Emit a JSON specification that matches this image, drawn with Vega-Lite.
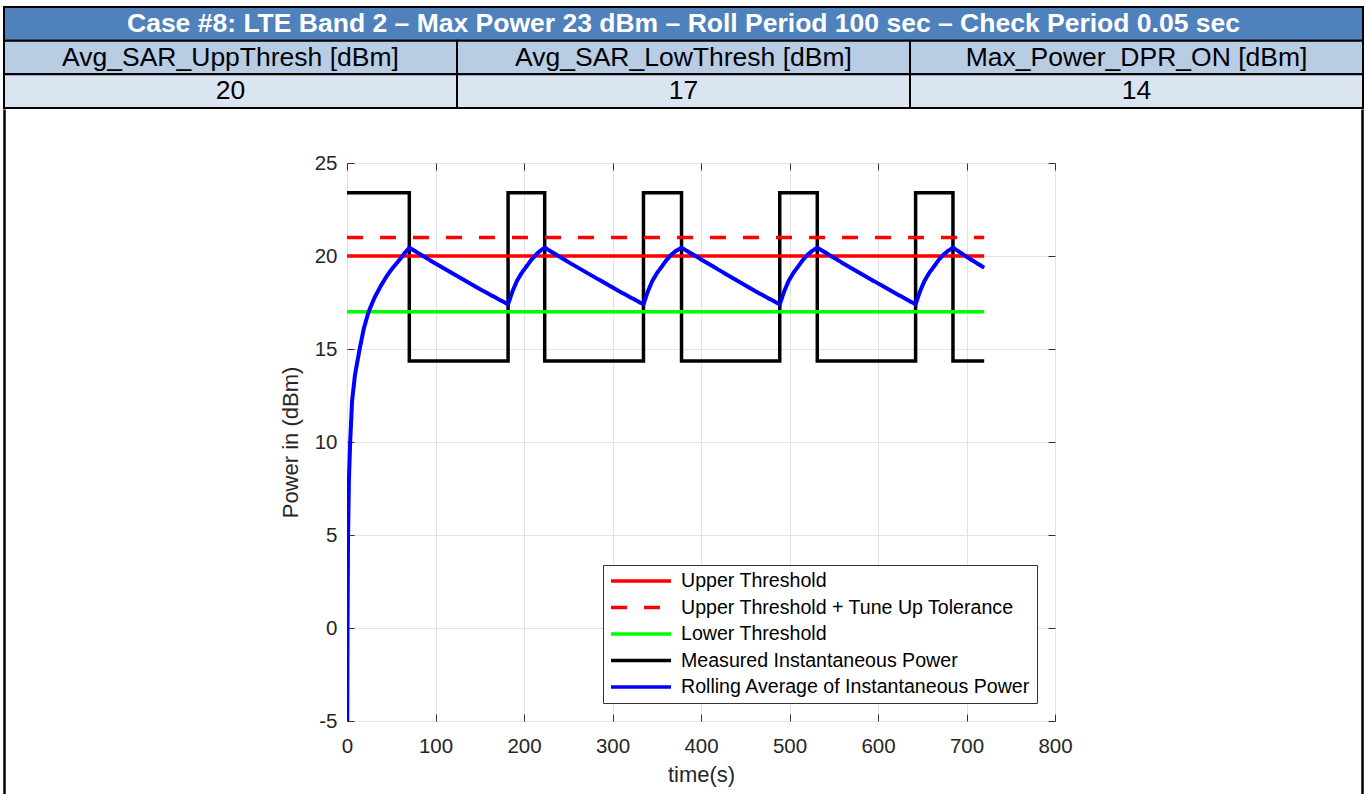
{
  "$schema": "https://vega.github.io/schema/vega-lite/v6.json",
  "background": "white",
  "padding": {"left": 3, "top": 6, "right": 0, "bottom": 0},
  "config": {"font": "Liberation Sans", "view": {"stroke": null}},
  "spacing": 0,
  "bounds": "full",
  "resolve": {"scale": {"x": "independent", "y": "independent", "color": "independent", "fill": "independent", "strokeDash": "independent"}, "legend": {"color": "independent", "fill": "independent", "strokeDash": "independent"}},
  "datasets": {
    "table": [
      {"row": "h", "col": "c2", "label": "Case #8: LTE Band 2 – Max Power 23 dBm – Roll Period 100 sec – Check Period 0.05 sec"},
      {"row": "l", "col": "c1", "label": "Avg_SAR_UppThresh [dBm]"},
      {"row": "l", "col": "c2", "label": "Avg_SAR_LowThresh [dBm]"},
      {"row": "l", "col": "c3", "label": "Max_Power_DPR_ON [dBm]"},
      {"row": "v", "col": "c1", "label": "20"},
      {"row": "v", "col": "c2", "label": "17"},
      {"row": "v", "col": "c3", "label": "14"}
    ],
    "power": [
      {"series": "Upper Threshold", "t": 0, "p": 20},
      {"series": "Upper Threshold", "t": 720, "p": 20},
      {"series": "Upper Threshold + Tune Up Tolerance", "t": 0, "p": 21},
      {"series": "Upper Threshold + Tune Up Tolerance", "t": 720, "p": 21},
      {"series": "Lower Threshold", "t": 0, "p": 17},
      {"series": "Lower Threshold", "t": 720, "p": 17},
      {"series": "Measured Instantaneous Power", "t": 0, "p": 23.4},
      {"series": "Measured Instantaneous Power", "t": 70.4, "p": 14.35},
      {"series": "Measured Instantaneous Power", "t": 182, "p": 23.4},
      {"series": "Measured Instantaneous Power", "t": 223.4, "p": 14.35},
      {"series": "Measured Instantaneous Power", "t": 335, "p": 23.4},
      {"series": "Measured Instantaneous Power", "t": 378, "p": 14.35},
      {"series": "Measured Instantaneous Power", "t": 489, "p": 23.4},
      {"series": "Measured Instantaneous Power", "t": 531.4, "p": 14.35},
      {"series": "Measured Instantaneous Power", "t": 642.5, "p": 23.4},
      {"series": "Measured Instantaneous Power", "t": 684.7, "p": 14.35},
      {"series": "Measured Instantaneous Power", "t": 720, "p": 14.35},
      {"series": "Rolling Average of Instantaneous Power", "t": 0.3, "p": -5},
      {"series": "Rolling Average of Instantaneous Power", "t": 0.6, "p": 0},
      {"series": "Rolling Average of Instantaneous Power", "t": 1.2, "p": 5},
      {"series": "Rolling Average of Instantaneous Power", "t": 2.2, "p": 8},
      {"series": "Rolling Average of Instantaneous Power", "t": 3.6, "p": 10},
      {"series": "Rolling Average of Instantaneous Power", "t": 5.7, "p": 12.2},
      {"series": "Rolling Average of Instantaneous Power", "t": 9, "p": 13.6},
      {"series": "Rolling Average of Instantaneous Power", "t": 14.3, "p": 15},
      {"series": "Rolling Average of Instantaneous Power", "t": 19, "p": 16.1},
      {"series": "Rolling Average of Instantaneous Power", "t": 24.4, "p": 17},
      {"series": "Rolling Average of Instantaneous Power", "t": 31, "p": 17.75},
      {"series": "Rolling Average of Instantaneous Power", "t": 37.7, "p": 18.35},
      {"series": "Rolling Average of Instantaneous Power", "t": 44, "p": 18.85},
      {"series": "Rolling Average of Instantaneous Power", "t": 49, "p": 19.2},
      {"series": "Rolling Average of Instantaneous Power", "t": 55, "p": 19.55},
      {"series": "Rolling Average of Instantaneous Power", "t": 60.3, "p": 19.85},
      {"series": "Rolling Average of Instantaneous Power", "t": 65, "p": 20.15},
      {"series": "Rolling Average of Instantaneous Power", "t": 70.4, "p": 20.45},
      {"series": "Rolling Average of Instantaneous Power", "t": 98, "p": 19.65},
      {"series": "Rolling Average of Instantaneous Power", "t": 126, "p": 18.88},
      {"series": "Rolling Average of Instantaneous Power", "t": 154, "p": 18.12},
      {"series": "Rolling Average of Instantaneous Power", "t": 182, "p": 17.4},
      {"series": "Rolling Average of Instantaneous Power", "t": 187, "p": 18.1},
      {"series": "Rolling Average of Instantaneous Power", "t": 192, "p": 18.66},
      {"series": "Rolling Average of Instantaneous Power", "t": 197.5, "p": 19.1},
      {"series": "Rolling Average of Instantaneous Power", "t": 203, "p": 19.45},
      {"series": "Rolling Average of Instantaneous Power", "t": 208, "p": 19.78},
      {"series": "Rolling Average of Instantaneous Power", "t": 213, "p": 20.05},
      {"series": "Rolling Average of Instantaneous Power", "t": 218, "p": 20.27},
      {"series": "Rolling Average of Instantaneous Power", "t": 223.4, "p": 20.45},
      {"series": "Rolling Average of Instantaneous Power", "t": 251, "p": 19.65},
      {"series": "Rolling Average of Instantaneous Power", "t": 279, "p": 18.88},
      {"series": "Rolling Average of Instantaneous Power", "t": 307, "p": 18.12},
      {"series": "Rolling Average of Instantaneous Power", "t": 335, "p": 17.4},
      {"series": "Rolling Average of Instantaneous Power", "t": 340, "p": 18.1},
      {"series": "Rolling Average of Instantaneous Power", "t": 345, "p": 18.66},
      {"series": "Rolling Average of Instantaneous Power", "t": 350.5, "p": 19.1},
      {"series": "Rolling Average of Instantaneous Power", "t": 356, "p": 19.45},
      {"series": "Rolling Average of Instantaneous Power", "t": 361, "p": 19.78},
      {"series": "Rolling Average of Instantaneous Power", "t": 366, "p": 20.05},
      {"series": "Rolling Average of Instantaneous Power", "t": 371.5, "p": 20.27},
      {"series": "Rolling Average of Instantaneous Power", "t": 378, "p": 20.45},
      {"series": "Rolling Average of Instantaneous Power", "t": 406, "p": 19.65},
      {"series": "Rolling Average of Instantaneous Power", "t": 433.5, "p": 18.88},
      {"series": "Rolling Average of Instantaneous Power", "t": 461, "p": 18.12},
      {"series": "Rolling Average of Instantaneous Power", "t": 489, "p": 17.4},
      {"series": "Rolling Average of Instantaneous Power", "t": 494, "p": 18.1},
      {"series": "Rolling Average of Instantaneous Power", "t": 499, "p": 18.66},
      {"series": "Rolling Average of Instantaneous Power", "t": 504.5, "p": 19.1},
      {"series": "Rolling Average of Instantaneous Power", "t": 510, "p": 19.45},
      {"series": "Rolling Average of Instantaneous Power", "t": 515, "p": 19.78},
      {"series": "Rolling Average of Instantaneous Power", "t": 520, "p": 20.05},
      {"series": "Rolling Average of Instantaneous Power", "t": 525.5, "p": 20.27},
      {"series": "Rolling Average of Instantaneous Power", "t": 531.4, "p": 20.45},
      {"series": "Rolling Average of Instantaneous Power", "t": 559, "p": 19.65},
      {"series": "Rolling Average of Instantaneous Power", "t": 587, "p": 18.88},
      {"series": "Rolling Average of Instantaneous Power", "t": 615, "p": 18.12},
      {"series": "Rolling Average of Instantaneous Power", "t": 642.5, "p": 17.4},
      {"series": "Rolling Average of Instantaneous Power", "t": 647.5, "p": 18.1},
      {"series": "Rolling Average of Instantaneous Power", "t": 652.5, "p": 18.66},
      {"series": "Rolling Average of Instantaneous Power", "t": 658, "p": 19.1},
      {"series": "Rolling Average of Instantaneous Power", "t": 663.5, "p": 19.45},
      {"series": "Rolling Average of Instantaneous Power", "t": 668.5, "p": 19.78},
      {"series": "Rolling Average of Instantaneous Power", "t": 673.5, "p": 20.05},
      {"series": "Rolling Average of Instantaneous Power", "t": 679, "p": 20.27},
      {"series": "Rolling Average of Instantaneous Power", "t": 684.7, "p": 20.45},
      {"series": "Rolling Average of Instantaneous Power", "t": 702, "p": 19.9},
      {"series": "Rolling Average of Instantaneous Power", "t": 720, "p": 19.37}
    ]
  },
  "vconcat": [
    {
      "width": 1359,
      "height": 101,
      "data": {"name": "table"},
      "encoding": {
        "y": {"field": "row", "type": "nominal", "scale": {"domain": ["h", "l", "v"], "paddingInner": 0, "paddingOuter": 0}, "axis": null}
      },
      "layer": [
        {
          "transform": [{"filter": "datum.row === 'h'"}],
          "mark": {"type": "rect", "fill": "#4F81BD", "stroke": "#000000", "strokeWidth": 2}
        },
        {
          "transform": [{"filter": "datum.row !== 'h'"}],
          "mark": {"type": "rect", "stroke": "#000000", "strokeWidth": 2},
          "encoding": {
            "x": {"field": "col", "type": "nominal", "scale": {"domain": ["c1", "c2", "c3"], "paddingInner": 0, "paddingOuter": 0}, "axis": null},
            "fill": {"field": "row", "type": "nominal", "scale": {"domain": ["l", "v"], "range": ["#B8CCE4", "#DBE5F1"]}, "legend": null}
          }
        },
        {
          "transform": [{"filter": "datum.row === 'h'"}],
          "mark": {"type": "text", "color": "#FFFFFF", "fontWeight": "bold", "fontSize": 26.5},
          "encoding": {"text": {"field": "label"}}
        },
        {
          "transform": [{"filter": "datum.row !== 'h'"}],
          "mark": {"type": "text", "color": "#000000", "fontSize": 26.5},
          "encoding": {
            "x": {"field": "col", "type": "nominal", "scale": {"domain": ["c1", "c2", "c3"], "paddingInner": 0, "paddingOuter": 0}, "axis": null},
            "text": {"field": "label"}
          }
        }
      ]
    },
    {
      "spacing": 0,
      "bounds": "full",
      "center": true,
      "resolve": {"scale": {"color": "independent", "strokeDash": "independent"}, "legend": {"color": "independent", "strokeDash": "independent"}},
      "hconcat": [
        {"width": 1, "height": 728, "view": {"stroke": "#000000", "strokeWidth": 1.5}, "data": {"values": []}, "mark": "point"},
        {"width": 272, "height": 10, "view": {"fill": "#FFFFFF"}, "data": {"values": []}, "mark": "point"},
        {
          "width": 708,
          "height": 558,
          "title": {"text": " ", "fontSize": 10, "offset": 26},
          "view": {"stroke": "#5a5a5a", "strokeWidth": 1},
          "data": {"name": "power"},
          "encoding": {
            "color": {
              "field": "series", "type": "nominal",
              "scale": {"domain": ["Upper Threshold", "Upper Threshold + Tune Up Tolerance", "Lower Threshold", "Measured Instantaneous Power", "Rolling Average of Instantaneous Power"], "range": ["#FF0000", "#FF0000", "#00FF00", "#000000", "#0000FF"]},
              "legend": {"title": null, "orient": "bottom-right", "offset": 18, "padding": 6, "fillColor": "#FFFFFF", "strokeColor": "#333333", "symbolType": "M-1,0H6.5", "symbolSize": 256, "symbolStrokeWidth": 3.5, "labelFontSize": 19.6, "labelColor": "#000000", "labelOffset": 52, "rowPadding": 6.5, "labelLimit": 600}
            },
            "strokeDash": {
              "field": "series", "type": "nominal",
              "scale": {"domain": ["Upper Threshold", "Upper Threshold + Tune Up Tolerance", "Lower Threshold", "Measured Instantaneous Power", "Rolling Average of Instantaneous Power"], "range": [[1, 0], [16, 17], [1, 0], [1, 0], [1, 0]]},
              "legend": {"title": null, "orient": "bottom-right", "offset": 18, "padding": 6, "fillColor": "#FFFFFF", "strokeColor": "#333333", "symbolType": "M-1,0H6.5", "symbolSize": 256, "symbolStrokeWidth": 3.5, "labelFontSize": 19.6, "labelColor": "#000000", "labelOffset": 52, "rowPadding": 6.5, "labelLimit": 600}
            }
          },
          "layer": [
            {
              "transform": [{"filter": "datum.series === 'Measured Instantaneous Power'"}],
              "mark": {"type": "line", "interpolate": "step-after", "strokeWidth": 3.5, "clip": true},
              "encoding": {
                "x": {"field": "t", "type": "quantitative", "scale": {"domain": [0, 800], "nice": false, "zero": false},
                  "axis": {"orient": "bottom", "values": [0, 100, 200, 300, 400, 500, 600, 700, 800], "grid": true, "gridColor": "#e3e3e3", "gridWidth": 1, "domain": false, "tickColor": "#333333", "tickSize": -7, "labelFontSize": 20.5, "labelColor": "#262626", "labelPadding": 22, "labelFlush": false, "labelOverlap": false, "title": "time(s)", "titleFontSize": 22, "titleColor": "#262626", "titleFontWeight": "normal", "titlePadding": 8}},
                "y": {"field": "p", "type": "quantitative", "scale": {"domain": [-5, 25], "nice": false, "zero": false},
                  "axis": {"orient": "left", "values": [-5, 0, 5, 10, 15, 20, 25], "grid": true, "gridColor": "#e3e3e3", "gridWidth": 1, "domain": false, "tickColor": "#333333", "tickSize": -7, "labelFontSize": 20.5, "labelColor": "#262626", "labelPadding": 17, "labelOverlap": false, "labelExpr": "datum.value + ''", "title": "Power in (dBm)", "titleFontSize": 22, "titleColor": "#262626", "titleFontWeight": "normal", "titlePadding": 12}}
              }
            },
            {
              "transform": [{"filter": "datum.series === 'Upper Threshold' || datum.series === 'Upper Threshold + Tune Up Tolerance' || datum.series === 'Lower Threshold'"}],
              "mark": {"type": "line", "strokeWidth": 3.5, "clip": true},
              "encoding": {
                "x": {"field": "t", "type": "quantitative", "scale": {"domain": [0, 800], "nice": false, "zero": false},
                  "axis": {"orient": "top", "values": [0, 100, 200, 300, 400, 500, 600, 700, 800], "grid": false, "domain": false, "labels": false, "tickColor": "#333333", "tickSize": -7, "title": null}},
                "y": {"field": "p", "type": "quantitative", "scale": {"domain": [-5, 25], "nice": false, "zero": false},
                  "axis": {"orient": "right", "values": [-5, 0, 5, 10, 15, 20, 25], "grid": false, "domain": false, "labels": false, "tickColor": "#333333", "tickSize": -7, "title": null}}
              }
            },
            {
              "transform": [{"filter": "datum.series === 'Rolling Average of Instantaneous Power'"}],
              "mark": {"type": "line", "interpolate": "linear", "strokeWidth": 4, "clip": true},
              "encoding": {
                "x": {"field": "t", "type": "quantitative", "scale": {"domain": [0, 800], "nice": false, "zero": false}, "axis": null},
                "y": {"field": "p", "type": "quantitative", "scale": {"domain": [-5, 25], "nice": false, "zero": false}, "axis": null}
              }
            }
          ],
          "resolve": {"axis": {"x": "independent", "y": "independent"}}
        },
        {"width": 288, "height": 10, "view": {"fill": "#FFFFFF"}, "data": {"values": []}, "mark": "point"},
        {"width": 1, "height": 728, "view": {"stroke": "#000000", "strokeWidth": 1.5}, "data": {"values": []}, "mark": "point"}
      ]
    }
  ]
}
